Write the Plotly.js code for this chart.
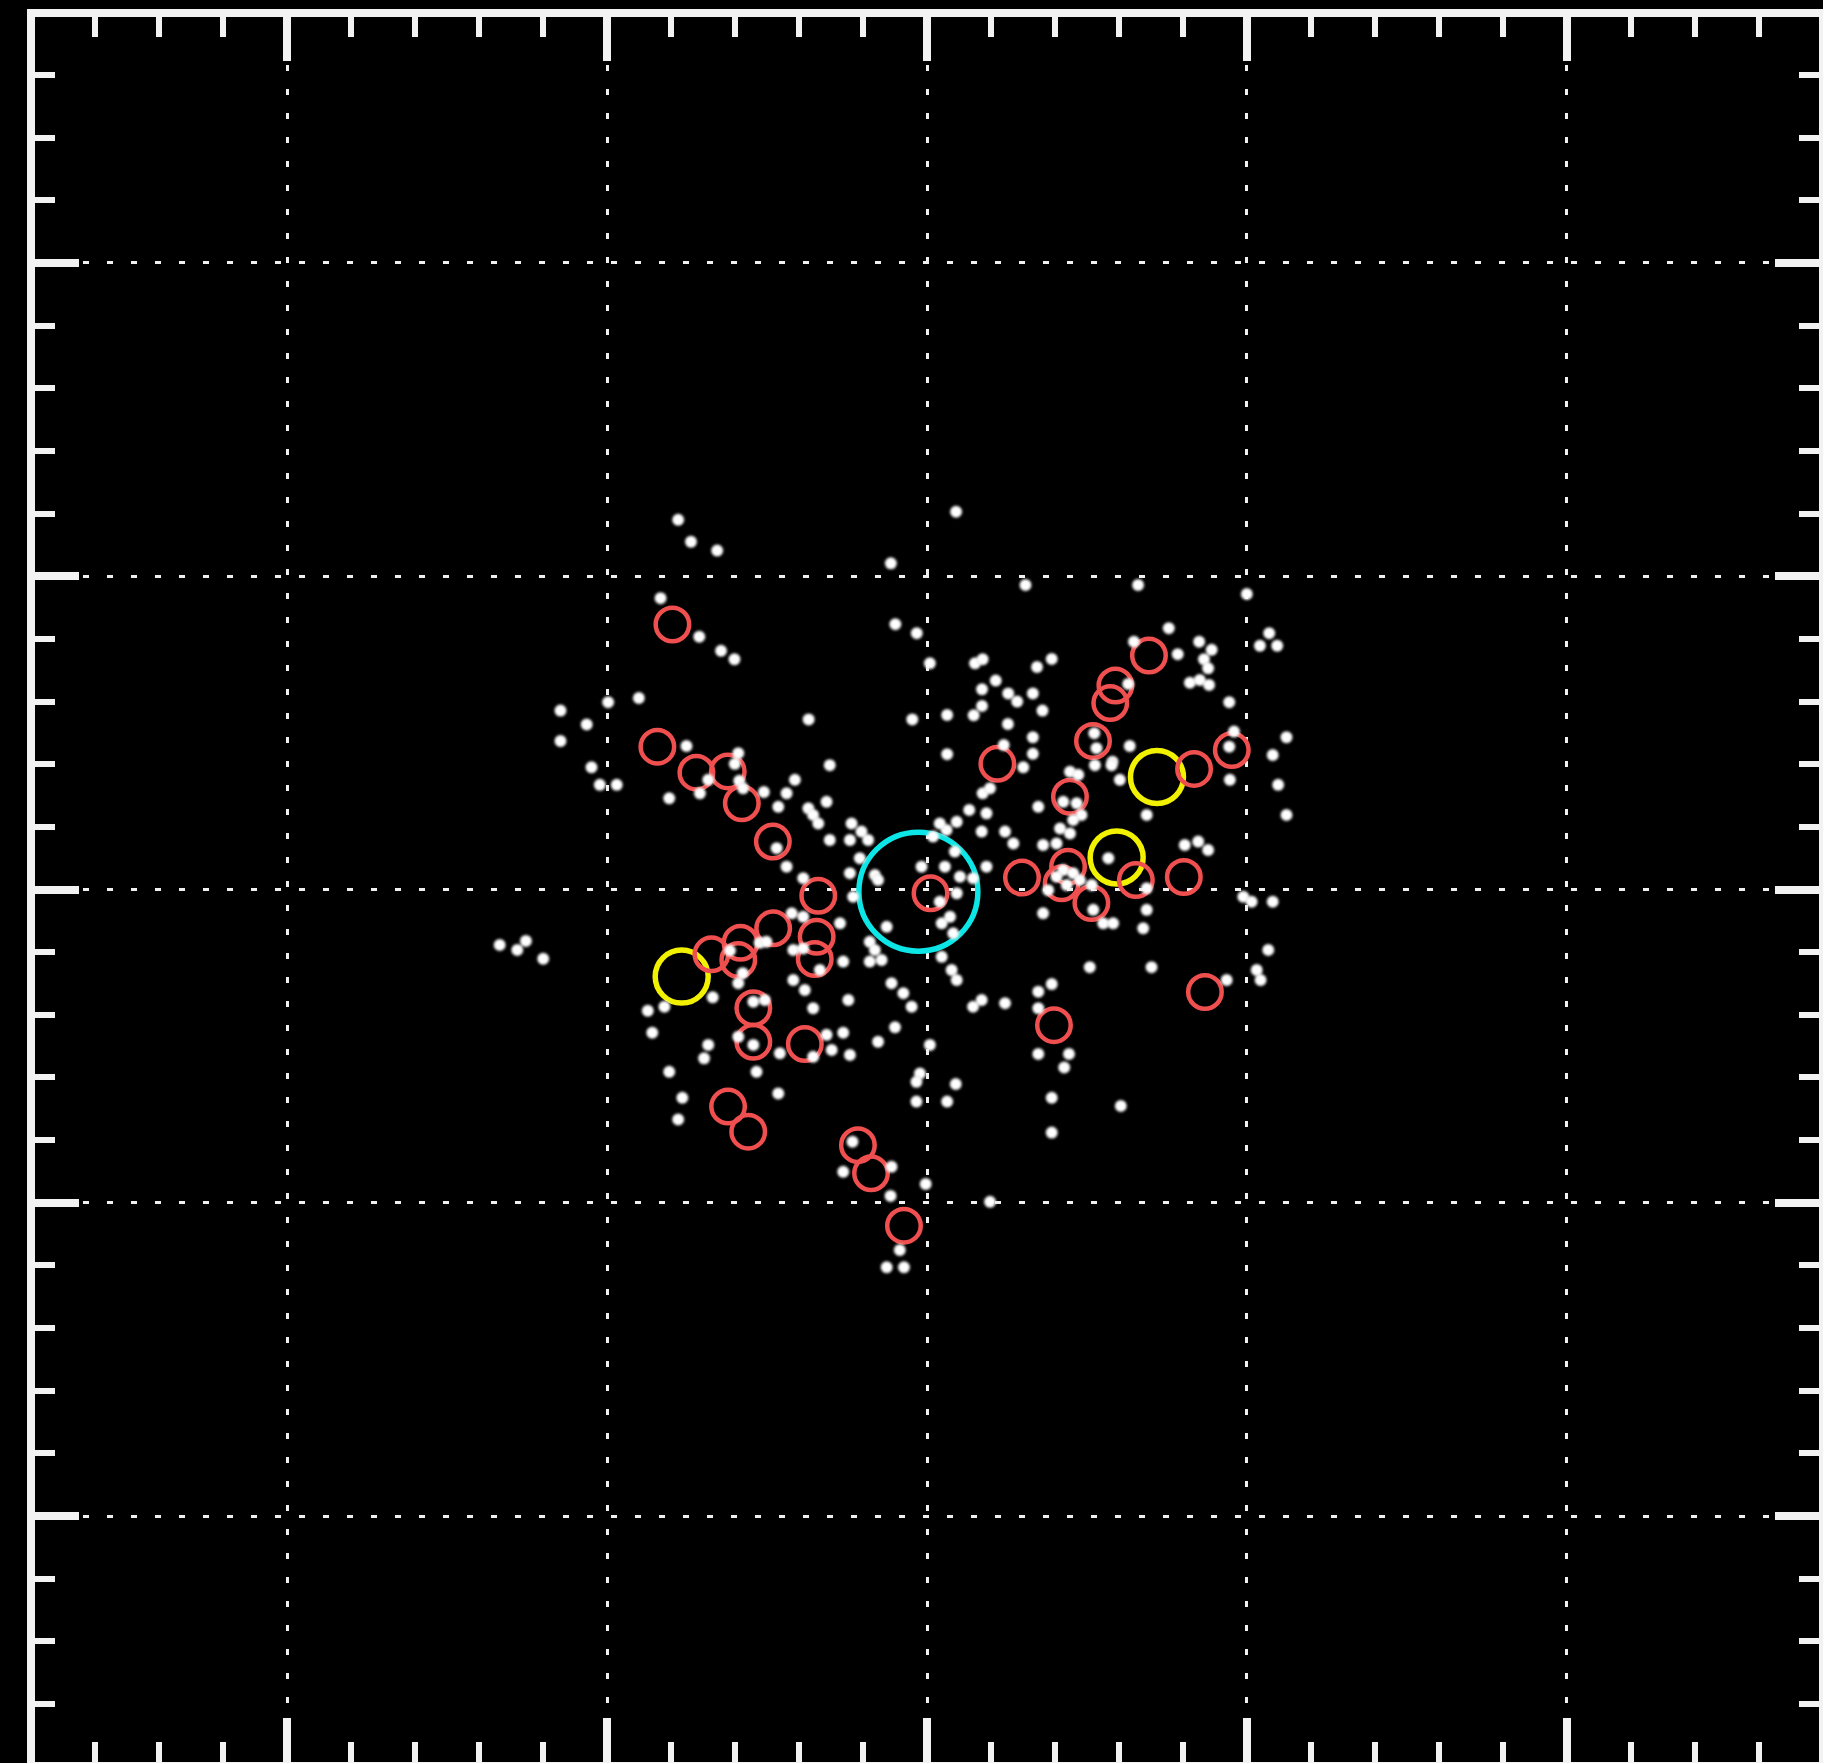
<!DOCTYPE html>
<html>
<head>
<meta charset="utf-8">
<script src="https://cdn.plot.ly/plotly-3.0.1.min.js"></script>
<style>
  html, body { margin: 0; padding: 0; background: #000; overflow: hidden; }
  #chart { width: 1829px; height: 1772px; }
</style>
</head>
<body>
<div id="chart"></div>
<script>
// Field sources, grouped by sector (offsets in grid units from the centre)
const northWestX = [-0.778,-0.738,-0.656,-0.833,-0.712,-0.644,-0.602,-0.997,-0.901,-1.146,-1.064,-1.146,-0.752,-0.590];
const northWestY = [1.180,1.110,1.082,0.930,0.807,0.762,0.735,0.598,0.611,0.571,0.527,0.474,0.458,0.435];

const northX = [0.091,-0.113,0.308,-0.099,-0.032,0.009,0.150,0.174,0.215,0.172,0.254,0.282,0.331,0.344,0.172,0.146,0.063,-0.046,-0.370,0.253,0.331,0.063,0.240,0.331,-0.304];
const northY = [1.206,1.041,0.972,0.847,0.818,0.722,0.722,0.735,0.667,0.639,0.626,0.600,0.626,0.710,0.586,0.556,0.557,0.543,0.543,0.528,0.486,0.432,0.461,0.433,0.397];

const northEastX = [0.660,1.000,0.756,0.647,0.784,0.851,0.890,0.866,0.879,0.390,0.629,0.822,0.853,0.882,0.361,0.945,1.070,1.041,1.095,0.523,0.530,0.634,0.945,0.960,1.124,1.081,0.580];
const northEastY = [0.972,0.943,0.834,0.791,0.751,0.791,0.765,0.735,0.706,0.736,0.656,0.660,0.669,0.653,0.571,0.598,0.818,0.778,0.778,0.499,0.451,0.458,0.456,0.504,0.486,0.429,0.408];

const westX = [-1.049,-1.023,-0.970,-0.806,-0.601,-0.710,-0.684,-0.587,-0.575,-0.510,-1.336,-1.281,-1.254,-1.200,-0.670,-0.821,-0.873,-0.616,-0.590,-0.523,-0.576,-0.543];
const westY = [0.390,0.334,0.334,0.291,0.401,0.307,0.350,0.347,0.323,0.311,-0.177,-0.193,-0.164,-0.221,-0.344,-0.374,-0.387,-0.195,-0.299,-0.170,-0.267,-0.358];

const coreX = [-0.413,-0.439,-0.465,-0.314,-0.371,-0.356,-0.340,0.174,0.197,0.132,0.186,0.093,0.061,0.040,-0.236,-0.205,-0.241,-0.184,-0.304,0.171,0.244,0.270,0.019,-0.470,-0.439,-0.210,-0.241,-0.163,-0.153,-0.017,0.056,0.087,0.103,0.144,0.186,-0.387,0.040,0.093,-0.231,-0.423,-0.387,-0.272,-0.126,0.046,0.072,0.082,-0.502,-0.418,-0.387,-0.179,-0.163,-0.179,-0.142,-0.262,-0.335,0.046,0.077,0.093,-0.418,-0.382,-0.507,-0.111,-0.074,-0.048,-0.246,-0.356,0.144,0.171,0.244,0.301];
const coreY = [0.350,0.307,0.264,0.280,0.259,0.238,0.211,0.307,0.323,0.254,0.243,0.216,0.190,0.211,0.211,0.185,0.158,0.158,0.158,0.185,0.185,0.147,0.169,0.132,0.073,0.100,0.052,0.046,0.030,0.073,0.073,0.121,0.041,0.036,0.073,0.036,-0.039,-0.012,-0.023,-0.076,-0.087,-0.108,-0.119,-0.108,-0.087,-0.140,-0.167,-0.193,-0.188,-0.167,-0.193,-0.230,-0.225,-0.230,-0.257,-0.215,-0.257,-0.289,-0.289,-0.321,-0.353,-0.299,-0.331,-0.374,-0.353,-0.379,-0.374,-0.353,-0.363,0.390];

const eastX = [0.525,0.577,0.447,0.473,0.603,0.947,1.098,1.124,0.348,0.426,0.468,0.483,0.457,0.416,0.447,0.687,0.363,0.405,0.806,0.848,0.879,0.567,0.426,0.457,0.405,0.478,0.379,0.437,0.515,0.363,0.520,0.551,0.582,0.687,0.687,0.676,0.989,1.015,1.081,1.067,0.509,0.702,0.937,1.031,1.043,0.390,0.348,0.348];
const eastY = [0.397,0.397,0.376,0.366,0.350,0.350,0.334,0.238,0.264,0.280,0.275,0.238,0.222,0.195,0.179,0.238,0.142,0.147,0.142,0.153,0.126,0.100,0.062,0.052,0.041,0.030,-0.002,0.014,0.014,-0.076,-0.065,-0.108,-0.108,0.004,-0.065,-0.124,-0.023,-0.039,-0.039,-0.193,-0.248,-0.248,-0.289,-0.257,-0.289,-0.302,-0.326,-0.379];

const southX = [-0.859,-0.684,-0.697,-0.806,-0.765,-0.778,-0.590,-0.543,-0.533,-0.460,-0.314,-0.262,-0.298,-0.241,-0.153,-0.100,0.009,-0.022,-0.033,0.090,-0.033,0.063,-0.465,-0.233,-0.262,-0.111,-0.004,-0.114,0.197,-0.085,-0.126,-0.072,-0.356,0.348,0.444,0.429,0.390,0.390,0.606];
const southY = [-0.457,-0.496,-0.539,-0.582,-0.665,-0.734,-0.470,-0.496,-0.582,-0.523,-0.464,-0.457,-0.512,-0.528,-0.486,-0.440,-0.496,-0.587,-0.614,-0.621,-0.677,-0.677,-0.651,-0.805,-0.901,-0.885,-0.940,-0.978,-0.997,-1.151,-1.206,-1.206,-0.534,-0.525,-0.525,-0.568,-0.665,-0.776,-0.691];

// Flagged members (red rings)
const flaggedX = [-0.796,-0.843,-0.721,-0.623,-0.579,-0.482,-0.340,-0.481,-0.345,-0.351,-0.674,-0.583,-0.590,-0.543,-0.543,-0.382,-0.622,-0.559,-0.216,-0.175,-0.072,0.011,0.220,0.297,0.441,0.421,0.514,0.653,0.803,0.869,0.397,0.694,0.589,0.573,0.519,0.953,0.835,0.447];
const flaggedY = [0.846,0.456,0.373,0.377,0.275,0.153,-0.020,-0.124,-0.151,-0.222,-0.207,-0.170,-0.225,-0.379,-0.486,-0.493,-0.693,-0.773,-0.816,-0.906,-1.073,-0.012,0.401,0.038,0.073,0.020,-0.043,0.030,0.040,-0.327,-0.433,0.747,0.651,0.595,0.474,0.445,0.385,0.296];

// Bright members (yellow rings)
const brightX = [-0.767, 0.593, 0.719];
const brightY = [-0.278, 0.102, 0.359];

// Cluster centre (cyan ring)
const centreX = [-0.027];
const centreY = [-0.007];

const fieldX = [].concat(northWestX, northX, northEastX, westX, coreX, eastX, southX);
const fieldY = [].concat(northWestY, northY, northEastY, westY, coreY, eastY, southY);

const traces = [
  {
    x: brightX, y: brightY, type: 'scatter', mode: 'markers', hoverinfo: 'skip',
    marker: { symbol: 'circle-open', size: 53, color: '#f2f200', line: { width: 5.5, color: '#f2f200' } }
  },
  {
    x: flaggedX, y: flaggedY, type: 'scatter', mode: 'markers', hoverinfo: 'skip',
    marker: { symbol: 'circle-open', size: 33.5, color: '#f04f4f', line: { width: 4.5, color: '#f04f4f' } }
  },
  {
    x: centreX, y: centreY, type: 'scatter', mode: 'markers', hoverinfo: 'skip',
    marker: { symbol: 'circle-open', size: 119, color: '#0ce6e6', line: { width: 5.5, color: '#0ce6e6' } }
  },
  {
    x: fieldX, y: fieldY, type: 'scatter', mode: 'markers', hoverinfo: 'skip',
    marker: { symbol: 'circle', size: 11, color: '#ffffff', line: { width: 2.5, color: 'rgba(220,220,220,0.45)' } }
  }
];

const frameColor = '#f2f2f2';
function axisStyle(half) {
  return {
    range: [-half, half],
    autorange: false,
    fixedrange: true,
    showticklabels: false,
    zeroline: false,
    showline: true,
    linewidth: 8,
    linecolor: frameColor,
    mirror: 'allticks',
    ticks: 'inside',
    tick0: 0,
    dtick: 1,
    ticklen: 44,
    tickwidth: 8,
    tickcolor: frameColor,
    showgrid: true,
    gridcolor: '#f0f0f0',
    gridwidth: 3,
    griddash: '6px,18px',
    minor: {
      tick0: 0,
      dtick: 0.2,
      ticks: 'inside',
      ticklen: 20,
      tickwidth: 6,
      tickcolor: frameColor,
      showgrid: false
    }
  };
}

const layout = {
  width: 1829,
  height: 1772,
  margin: { l: 35, r: 10, t: 17, b: 10, pad: 0 },
  paper_bgcolor: '#000000',
  plot_bgcolor: '#000000',
  showlegend: false,
  xaxis: axisStyle(2.789),
  yaxis: axisStyle(2.785)
};

Plotly.newPlot('chart', traces, layout, { staticPlot: true, displayModeBar: false }).then(function (gd) {
  // soften the point sources slightly, as they are drawn as diffuse blobs
  const groups = gd.querySelectorAll('.scatterlayer .trace');
  if (groups.length) groups[groups.length - 1].style.filter = 'blur(1px)';
});
</script>
</body>
</html>
